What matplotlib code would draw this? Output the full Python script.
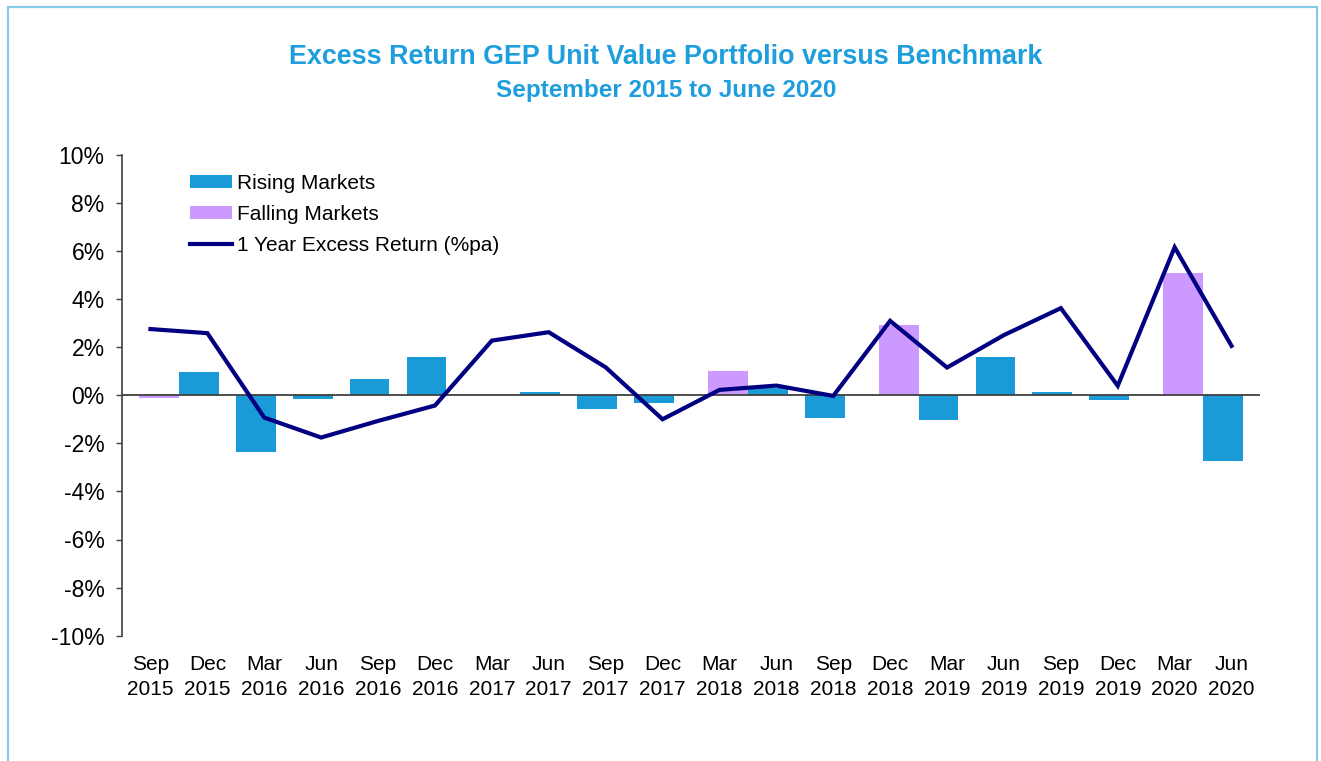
import numpy as np
import matplotlib
matplotlib.use("Agg")
import matplotlib.pyplot as plt
from matplotlib.ticker import FuncFormatter
from matplotlib.patches import Rectangle

plt.rcParams['font.family'] = ['Liberation Sans', 'DejaVu Sans']

categories = ["Sep\n2015", "Dec\n2015", "Mar\n2016", "Jun\n2016", "Sep\n2016", "Dec\n2016",
              "Mar\n2017", "Jun\n2017", "Sep\n2017", "Dec\n2017", "Mar\n2018", "Jun\n2018",
              "Sep\n2018", "Dec\n2018", "Mar\n2019", "Jun\n2019", "Sep\n2019", "Dec\n2019",
              "Mar\n2020", "Jun\n2020"]
rising = [0.0, 0.97, -2.38, -0.17, 0.69, 1.58, 0.0, 0.12, -0.58, -0.33,
          0.0, 0.30, -0.93, 0.0, -1.05, 1.58, 0.12, -0.22, 0.0, -2.73]
falling = [-0.12, 0.0, 0.0, 0.0, 0.0, 0.0, 0.0, 0.0, 0.0, 0.0,
           1.01, 0.0, 0.0, 2.92, 0.0, 0.0, 0.0, 0.0, 5.07, 0.0]
excess_1y = [2.75, 2.58, -0.93, -1.76, -1.07, -0.43, 2.27, 2.62, 1.16, -1.0,
             0.22, 0.40, -0.03, 3.09, 1.15, 2.50, 3.62, 0.39, 6.15, 2.05]
yticks = [-10, -8, -6, -4, -2, 0, 2, 4, 6, 8, 10]

title = "Excess Return GEP Unit Value Portfolio versus Benchmark"
subtitle = "September 2015 to June 2020"

BLUE = "#1A9AD6"
PURPLE = "#CC99FF"
NAVY = "#000080"
TITLE_C = "#1F9EDD"

fig = plt.figure(figsize=(13.21, 7.61), dpi=100)
ax = fig.add_axes([122/1321, 1 - 635.7/761, (1260-122)/1321, (635.7-154.7)/761])

x = np.arange(len(categories))
b1 = ax.bar(x - 0.15, rising, 0.7, color=BLUE, label="Rising Markets", zorder=2)
b2 = ax.bar(x + 0.15, falling, 0.7, color=PURPLE, label="Falling Markets", zorder=2)
ax.axhline(0, color="#404040", lw=1.3, zorder=2.5)
l1, = ax.plot(x, excess_1y, color=NAVY, lw=3.0, label="1 Year Excess Return (%pa)", zorder=3,
              solid_joinstyle='miter')

ax.set_xlim(-0.5, len(categories) - 0.5)
ax.set_ylim(-10, 10)
ax.set_yticks(yticks)
ax.yaxis.set_major_formatter(FuncFormatter(lambda v, p: f"{v:.0f}%"))
ax.set_xticks(x)
ax.set_xticklabels(categories, fontsize=15, linespacing=1.42)
ax.tick_params(axis='x', length=0, pad=14)
ax.tick_params(axis='y', direction='out', length=4.5, width=1, labelsize=16.5, pad=8,
               color="#404040")
for s in ['top', 'right', 'bottom']:
    ax.spines[s].set_visible(False)
ax.spines['left'].set_color("#404040")
ax.spines['left'].set_linewidth(1.2)

leg = ax.legend(handles=[b1, b2, l1], loc='upper left', bbox_to_anchor=(0.06, 0.96),
                frameon=False, fontsize=15, handlelength=2.0, handleheight=0.58,
                handletextpad=0.25, labelspacing=0.58, borderpad=0, borderaxespad=0)

fig.text(666/1321, 1 - 57/761, title, ha='center', va='center', fontsize=19.4,
         fontweight='bold', color=TITLE_C)
fig.text(666/1321, 1 - 90/761, subtitle, ha='center', va='center', fontsize=17.5,
         fontweight='bold', color=TITLE_C)

fig.patches.append(Rectangle((8/1321, -0.05), (1316.5-8)/1321, 1 - 7.5/761 + 0.05,
                             transform=fig.transFigure, fill=False,
                             edgecolor="#86CBEC", lw=1.6, zorder=0))

fig.savefig("out.png", dpi=100)
